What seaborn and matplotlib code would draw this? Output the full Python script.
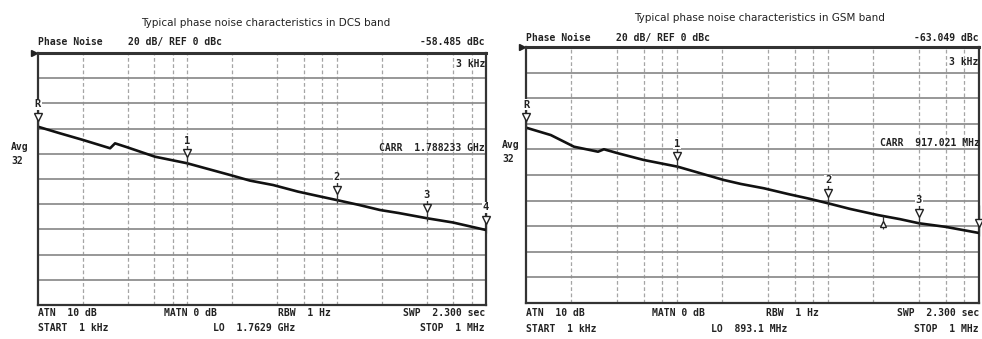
import matplotlib
matplotlib.use("Agg")
import matplotlib.pyplot as plt
import matplotlib.transforms as mtransforms
import seaborn as sns
import pandas as pd

# ---------------- data ----------------
dcs_freq = [1000, 1400, 2000, 3040, 3280, 3950, 6070, 9960, 19300, 26300,
            37600, 55000, 75000, 100000, 140000, 195000, 260000, 405000, 600000, 1000000]
dcs_dbc = [-58.5, -63.7, -69.0, -75.6, -71.7, -74.8, -82.3, -87.5, -96.8, -101.3,
           -104.8, -110.0, -113.5, -116.7, -120.5, -124.6, -127.0, -131.2, -134.5, -140.5]

gsm_freq = [1000, 1460, 2080, 3000, 3280, 4060, 6040, 10100, 20400, 26500,
            37700, 55000, 75000, 100000, 140000, 214000, 300000, 400000, 600000, 1000000]
gsm_dbc = [-63.0, -68.8, -77.9, -81.8, -79.9, -83.0, -88.3, -93.5, -103.9, -107.0,
           -110.4, -115.0, -118.5, -122.1, -126.5, -131.3, -134.5, -137.7, -140.5, -145.3]

dcs_mk_freq = [1000, 10000, 100000, 400000, 1000000]
dcs_mk_dbc = [-58.5, -87.5, -116.7, -131.0, -140.5]
dcs_mk_lab = ["R", "1", "2", "3", "4"]

gsm_mk_freq = [1000, 10000, 100000, 400000, 1000000]
gsm_mk_dbc = [-63.0, -93.5, -122.1, -137.7, -145.3]
gsm_mk_lab = ["R", "1", "2", "3", ""]
gsm_mk4_freq = [230000]
gsm_mk4_dbc = [-132.0]

grid_db = [-20, -40, -60, -80, -100, -120, -140, -160, -180]
grid_freq = [2e3, 4e3, 6e3, 8e3, 1e4, 2e4, 4e4, 6e4, 8e4, 1e5,
             2e5, 4e5, 6e5, 8e5]

titles = ["Typical phase noise characteristics in DCS band",
          "Typical phase noise characteristics in GSM band"]
marker_read = ["-58.485 dBc", "-63.049 dBc"]
carr = ["CARR  1.788233 GHz", "CARR  917.021 MHz"]
lo = ["LO  1.7629 GHz", "LO  893.1 MHz"]

# ---------------- drawing ----------------
sns.set_theme(style="white")
plt.rcParams['font.family'] = ['DejaVu Sans']

W, H = 982, 339
fig = plt.figure(figsize=(W / 100, H / 100), dpi=100)
fig.patch.set_facecolor("white")

def fx(px):
    return px / W

def fy(py):
    return 1 - py / H

panels = [
    dict(box=(38, 53, 486, 305), freq=dcs_freq, dbc=dcs_dbc,
         mk=(dcs_mk_freq, dcs_mk_dbc, dcs_mk_lab), off=0, title_x=266,
         title_y=23, hdr_y=42, khz_y=64, avg_y=(147, 161), carr_y=148,
         carr_x=(370, 485), b1=313, b2=328, lo_x=213, right=485),
    dict(box=(526, 47, 979, 303), freq=gsm_freq, dbc=gsm_dbc,
         mk=(gsm_mk_freq, gsm_mk_dbc, gsm_mk_lab), off=491, title_x=760,
         title_y=18, hdr_y=38, khz_y=62, avg_y=(145, 159), carr_y=143,
         carr_x=(868, 980), b1=313, b2=329, lo_x=711, right=979),
]

mono = dict(family="DejaVu Sans Mono", fontsize=7, color="#222", weight="bold")
ttl = dict(family=["Liberation Sans Narrow", "DejaVu Sans"], fontsize=7.5, color="#222")

for i, p in enumerate(panels):
    x0, y0, x1, y1 = p["box"]
    ax = fig.add_axes([fx(x0), fy(y1), fx(x1) - fx(x0), fy(y0) - fy(y1)])
    ax.set_facecolor("white")
    df = pd.DataFrame({"f": p["freq"], "L": p["dbc"]})
    sns.lineplot(data=df, x="f", y="L", ax=ax, color="#111", lw=1.9, zorder=5)
    ax.set_xscale("log")
    ax.set_xlim(1e3, 1e6)
    ax.set_ylim(-200, 0)
    ax.set_xlabel("")
    ax.set_ylabel("")
    ax.set_xticks(grid_freq)
    ax.set_xticks([], minor=True)
    ax.set_yticks(grid_db)
    ax.tick_params(length=0, labelbottom=False, labelleft=False)
    ax.xaxis.grid(True, color="#a5a5a5", lw=0.9, ls=(0, (3, 2)))
    ax.yaxis.grid(True, color="#8f8f8f", lw=1.3)
    for s in ax.spines.values():
        s.set_color("#333")
        s.set_linewidth(1.6)
        s.set_visible(True)
    ax.spines["top"].set_linewidth(2.2)

    # reference level arrow at left of top border
    tr = mtransforms.offset_copy(ax.transAxes, fig=fig, x=-4, y=0, units="dots")
    ax.plot([0], [1], marker=">", ms=5, color="#222", transform=tr, clip_on=False)

    # markers
    mf, md, ml = p["mk"]
    for f, d, lab in zip(mf, md, ml):
        ax.vlines(f, d - 2, d + 22, color="#333", lw=0.9, zorder=6, clip_on=False)
        ax.plot([f], [d + 8], marker="v", ms=6, mfc="white", mec="#222", mew=1.0,
                zorder=7, clip_on=False)
        if lab:
            ax.text(f, d + 18, lab, ha="center", va="center", fontsize=7.5,
                    family="DejaVu Sans Mono", weight="bold", color="#222",
                    zorder=8, clip_on=False,
                    bbox=dict(boxstyle="square,pad=0.05", fc="white", ec="none"))
    if i == 1:
        for f, d in zip(gsm_mk4_freq, gsm_mk4_dbc):
            ax.vlines(f, d - 10, d, color="#333", lw=0.9, zorder=6)
            ax.plot([f], [d - 6], marker="^", ms=5, mfc="white", mec="#222",
                    mew=1.0, zorder=7)

    o = p["off"]
    fig.text(fx(p["title_x"]), fy(p["title_y"]), titles[i], ha="center",
             va="center", **ttl)
    fig.text(fx(x0), fy(p["hdr_y"]), "Phase Noise", ha="left", va="center", **mono)
    fig.text(fx(x0 + 90), fy(p["hdr_y"]), "20 dB/ REF 0 dBc", ha="left",
             va="center", **mono)
    fig.text(fx(p["right"]), fy(p["hdr_y"]), marker_read[i], ha="right",
             va="center", **mono)
    fig.text(fx(x1 - 1), fy(p["khz_y"]), "3 kHz", ha="right", va="center", **mono)
    fig.text(fx(o + 11), fy(p["avg_y"][0]), "Avg", ha="left", va="center", **mono)
    fig.text(fx(o + 11), fy(p["avg_y"][1]), "32", ha="left", va="center", **mono)
    fig.text(fx(p["carr_x"][1]), fy(p["carr_y"]), carr[i], ha="right",
             va="center", **mono)
    fig.text(fx(x0), fy(p["b1"]), "ATN  10 dB", ha="left", va="center", **mono)
    fig.text(fx(x0 + 126), fy(p["b1"]), "MATN 0 dB", ha="left", va="center", **mono)
    fig.text(fx(x0 + 240), fy(p["b1"]), "RBW  1 Hz", ha="left", va="center", **mono)
    fig.text(fx(p["right"]), fy(p["b1"]), "SWP  2.300 sec", ha="right",
             va="center", **mono)
    fig.text(fx(x0), fy(p["b2"]), "START  1 kHz", ha="left", va="center", **mono)
    fig.text(fx(p["lo_x"]), fy(p["b2"]), lo[i], ha="left", va="center", **mono)
    fig.text(fx(p["right"]), fy(p["b2"]), "STOP  1 MHz", ha="right", va="center",
             **mono)

fig.savefig("out.png", dpi=100, facecolor="white")
